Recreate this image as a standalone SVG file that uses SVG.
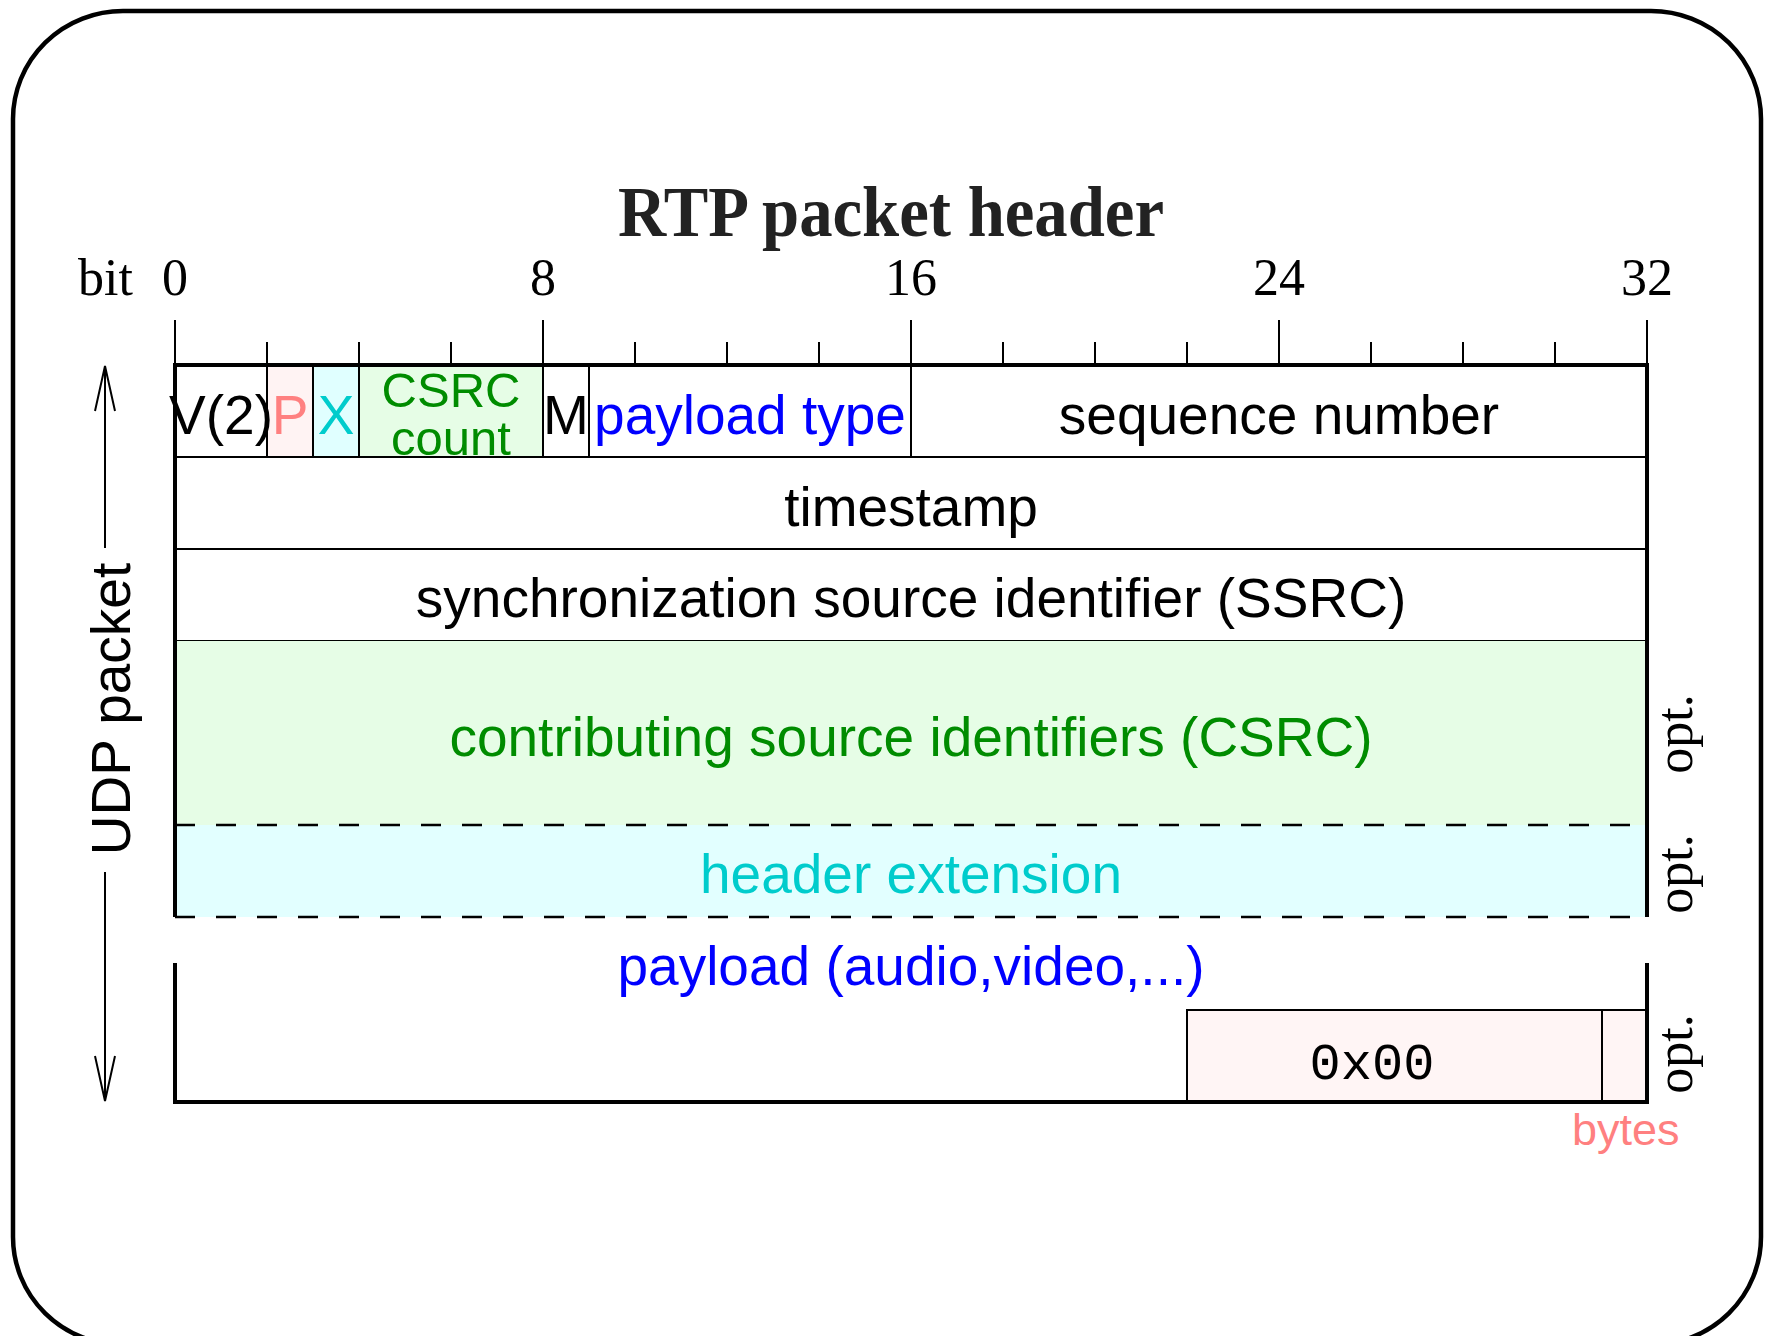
<svg xmlns="http://www.w3.org/2000/svg" width="1766" height="1336" viewBox="0 0 1766 1336">
  <defs>
    <style>
      .sans { font-family: "Liberation Sans", Arial, sans-serif; font-size: 55px; }
      .serif { font-family: "Liberation Serif", "Times New Roman", serif; font-size: 52px; }
      .mono { font-family: "Liberation Mono", "Courier New", monospace; font-size: 52px; }
      .thick { stroke: #000; stroke-width: 4; fill: none; }
      .thin { stroke: #000; stroke-width: 2; fill: none; }
      .dash { stroke: #000; stroke-width: 2.5; fill: none; stroke-dasharray: 20 21; }
      .mid { text-anchor: middle; }
    </style>
    <marker id="open" viewBox="-47 -12 49 24" refX="0" refY="0" markerUnits="userSpaceOnUse" markerWidth="49" markerHeight="24" orient="auto">
      <path d="M-45,-10 L0,0 L-45,10" fill="none" stroke="#000" stroke-width="2"/>
    </marker>
  </defs>

  <rect id="frame" x="13" y="11" width="1748" height="1334" rx="110" ry="108" fill="#fff" stroke="#000" stroke-width="4.5"/>

  <g id="title">
    <text x="618" y="236" textLength="546" lengthAdjust="spacingAndGlyphs" style="font-family:'Liberation Serif','Times New Roman',serif;font-weight:bold;font-size:72px" fill="#222">RTP packet header</text>
  </g>

  <g id="bit-scale">
    <text class="serif" x="78" y="295">bit</text>
    <text class="serif mid" x="175" y="295">0</text>
    <text class="serif mid" x="543" y="295">8</text>
    <text class="serif mid" x="911" y="295">16</text>
    <text class="serif mid" x="1279" y="295">24</text>
    <text class="serif mid" x="1647" y="295">32</text>
    <g class="thin">
      <path d="M175,320V365 M543,320V365 M911,320V365 M1279,320V365 M1647,320V365"/>
      <path d="M267,342V365 M359,342V365 M451,342V365 M635,342V365 M727,342V365 M819,342V365 M1003,342V365 M1095,342V365 M1187,342V365 M1371,342V365 M1463,342V365 M1555,342V365"/>
    </g>
  </g>

  <g id="row-fixed">
    <rect x="267" y="365" width="46" height="92" fill="#fff3f3"/>
    <rect x="313" y="365" width="46" height="92" fill="#e0ffff"/>
    <rect x="359" y="365" width="184" height="92" fill="#e6fde6"/>
    <path class="thin" d="M267,365V457 M313,365V457 M359,365V457 M543,365V457 M589,365V457 M911,365V457"/>
    <path class="thin" d="M175,457H1647 M175,549H1647 M175,641H1647"/>
  </g>

  <g id="csrc-field">
    <rect x="175" y="641" width="1472" height="184" fill="#e6fde6"/>
  </g>
  <g id="ext-field">
    <rect x="175" y="825" width="1472" height="92" fill="#e2ffff"/>
    <path class="dash" d="M175,825H1647 M175,917H1647"/>
  </g>

  <g id="header-border">
    <path class="thick" d="M175,917V365H1647V917"/>
  </g>

  <g id="payload-field">
    <rect x="1187" y="1010" width="460" height="92" fill="#fff5f5" stroke="#000" stroke-width="2"/>
    <path class="thin" d="M1602,1010V1102"/>
    <path class="thick" d="M175,963V1102H1647V963"/>
  </g>

  <g id="labels">
    <text class="sans mid" x="221" y="434">V(2)</text>
    <text class="sans mid" x="290" y="434" fill="#ff8080">P</text>
    <text class="sans mid" x="336" y="434" fill="#00cccc">X</text>
    <text class="sans mid" x="451" y="407" fill="#008c00" style="font-size:49px">CSRC</text>
    <text class="sans mid" x="451" y="455" fill="#008c00" style="font-size:49px">count</text>
    <text class="sans mid" x="566" y="434">M</text>
    <text class="sans mid" x="750" y="434" fill="#0000ff">payload type</text>
    <text class="sans mid" x="1279" y="434">sequence number</text>
    <text class="sans mid" x="911" y="526">timestamp</text>
    <text class="sans mid" x="911" y="617">synchronization source identifier (SSRC)</text>
    <text class="sans mid" x="911" y="756" fill="#008c00">contributing source identifiers (CSRC)</text>
    <text class="sans mid" x="911" y="893" fill="#00cccc">header extension</text>
    <text class="sans mid" x="911" y="985" fill="#0000ff">payload (audio,video,...)</text>
    <text class="mono mid" x="1372" y="1079">0x00</text>
    <text class="sans" x="1572" y="1145" fill="#ff8080" style="font-size:45px">bytes</text>
    <text class="serif mid" transform="translate(1692,734) rotate(-90)">opt.</text>
    <text class="serif mid" transform="translate(1692,874) rotate(-90)">opt.</text>
    <text class="serif mid" transform="translate(1692,1054) rotate(-90)">opt.</text>
  </g>

  <g id="udp-label">
    <text class="sans mid" transform="translate(130,709) rotate(-90)">UDP packet</text>
  </g>

  <g id="connectors">
    <path class="thin" d="M105,548V366" marker-end="url(#open)"/>
    <path class="thin" d="M105,872V1101" marker-end="url(#open)"/>
  </g>
</svg>
